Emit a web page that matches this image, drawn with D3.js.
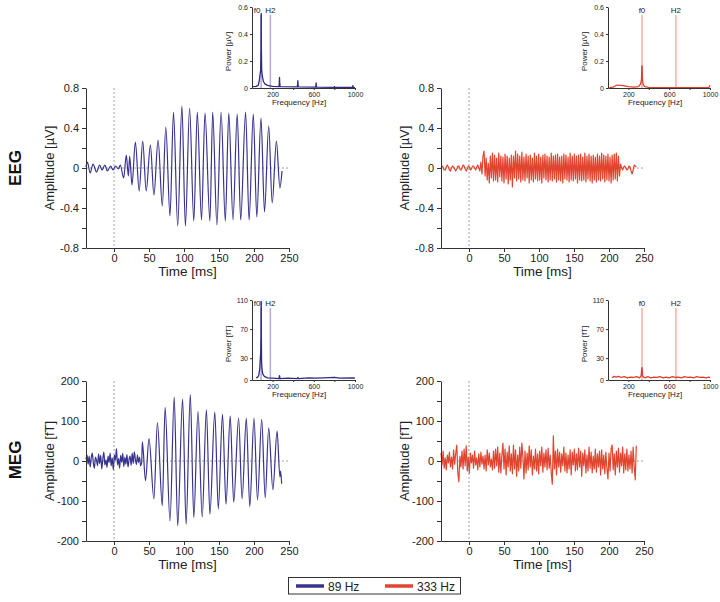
<!DOCTYPE html>
<html><head><meta charset="utf-8">
<script src="https://cdn.jsdelivr.net/npm/d3@7"></script>
<style>
body{margin:0;background:#fff;}
svg text{font-family:Arial,"Liberation Sans",Helvetica,sans-serif;}
</style>
</head><body>
<svg id="c" width="720" height="602"></svg>
<script>
// ---------------- DATA ----------------
const timeDomain = [-40, 250];
const timeTicks = [0, 50, 100, 150, 200, 250];
const eegTicks = [-0.8, -0.6, -0.4, -0.2, 0, 0.2, 0.4, 0.6, 0.8];
const eegLabels = [-0.8, -0.4, 0, 0.4, 0.8];
const megTicks = [-200, -150, -100, -50, 0, 50, 100, 150, 200];
const megLabels = [-200, -100, 0, 100, 200];
const freqTicks = [200, 400, 600, 800, 1000];
const freqLabels = [200, 600, 1000];
const psdEegTicks = [0, 0.2, 0.4, 0.6];
const psdMegTicks = [0, 30, 70, 110];
const legendLabels = ["89 Hz", "333 Hz"];
const rowLabels = ["EEG", "MEG"];

// EEG, 89 Hz: [time ms, amplitude µV] (extrema)
const eeg89 = [[-40,0.01],[-38,0.06],[-34,-0.05],[-30,0.04],[-25,-0.04],[-20.5,0.03],[-17,-0.02],[-13,0.03],
 [-9.5,-0.03],[-4.8,0.02],[-1.4,-0.02],[2.4,0.02],[6.2,-0.01],[9,0.03],[13.8,-0.10],[17.6,0.13],[20.5,-0.08],
 [22.4,0.12],[25.7,-0.17],[30.5,0.26],[36,-0.23],[41,0.27],[46,-0.23],[52,0.23],[57,-0.27],[63,0.28],[69,-0.38],
 [74,0.41],[80,-0.48],[85,0.56],[91,-0.58],[97,0.62],[102,-0.58],[108,0.60],[114,-0.53],[119,0.56],[125,-0.52],
 [130,0.55],[137,-0.53],[141,0.56],[147,-0.57],[153,0.56],[159,-0.53],[164,0.55],[170,-0.52],[176,0.54],
 [181,-0.52],[188,0.56],[193,-0.52],[199,0.54],[204,-0.49],[210,0.50],[215,-0.44],[221,0.42],[226,-0.35],
 [232,0.27],[237,-0.20],[240,-0.03]];

// EEG, 333 Hz: samples every 1.5 ms from -40 ms (µV)
const eeg333Start = -40, eeg333Step = 1.5;
const eeg333V = [
 0.00,0.02,0.01,-0.02,-0.02,0.01,0.03,0.01,-0.02,-0.03,0.00,0.02,0.01,-0.01,-0.03,-0.01,0.02,0.02,-0.01,-0.02,
 0.00,0.03,0.02,-0.01,-0.03,-0.01,0.02,0.01,-0.02,-0.01,0.02,0.02,0.00,-0.02,0.01,0.03,0.00,
 -0.03,0.06,-0.06,0.12,0.17,-0.08,0.10,-0.12,
 0.05,-0.15,0.12,-0.10,0.15,-0.13,
 0.13,-0.12,0.10,-0.14,0.15,-0.09,0.12,-0.13,0.11,-0.15,
 0.14,-0.11,0.12,-0.16,0.10,-0.12,0.13,-0.19,0.12,-0.10,
 0.17,-0.13,0.14,-0.11,0.12,-0.14,0.16,-0.12,0.11,-0.13,
 0.14,-0.10,0.12,-0.15,0.13,-0.12,0.10,-0.14,0.15,-0.11,
 0.12,-0.13,0.14,-0.12,0.11,-0.15,0.13,-0.10,0.14,-0.12,
 0.12,-0.14,0.11,-0.12,0.15,-0.13,0.12,-0.11,0.13,-0.14,
 0.14,-0.12,0.11,-0.13,0.12,-0.15,0.14,-0.11,0.13,-0.12,
 0.11,-0.14,0.15,-0.12,0.12,-0.13,0.14,-0.11,0.12,-0.15,
 0.13,-0.12,0.14,-0.13,0.11,-0.12,0.15,-0.14,0.12,-0.11,
 0.14,-0.13,0.12,-0.15,0.13,-0.12,0.11,-0.14,0.14,-0.12,
 0.12,-0.13,0.15,-0.11,0.13,-0.14,0.12,-0.12,0.14,-0.13,
 0.11,-0.15,0.13,-0.12,0.14,-0.11,0.15,-0.13,0.12,-0.08,0.04,
 0.00,-0.02,0.01,0.02,0.00,-0.02,-0.01,0.02,0.01,-0.03,-0.06,-0.02,0.03,0.02,0.01];

// MEG, 89 Hz: pre-stimulus samples every 1.5 ms from -40 ms (fT) ...
const meg89NoiseStart = -40, meg89NoiseStep = 1.5;
const meg89NoiseV = [5,15,-8,12,-15,8,20,-5,-18,10,2,-12,18,-6,14,-20,5,22,-10,3,-16,12,-4,20,-12,8,-22,15,2,31,
 -10,6,-18,14,-3,19,-14,9,-8,16,-15,4,12,-11,20,-6,23,5,-9,15,-4,10,-12];
// ... then oscillation extrema [time ms, fT]
const meg89Osc = [[39.5,-5],[40.5,48],[45,-49],[50,56],[57,-95],[62,96],[69,-112],[73,134],[80,-150],[86,160],
 [91,-162],[98,155],[103,-158],[109,166],[114,-141],[120,124],[126,-140],[132,128],[137,-133],[144,122],[149,-120],
 [155,117],[160,-108],[166,113],[171,-103],[178,107],[183,-95],[189,107],[194,-114],[200,107],[205,-97],[211,104],
 [216,-92],[221,83],[227,-72],[233,75],[237,-40],[238,-25],[239.5,-57]];

// MEG, 333 Hz: samples every 1.5 ms from -40 ms (fT)
const meg333Start = -40, meg333Step = 1.5;
const meg333V = [
 20,-10,25,-18,8,-22,15,-5,22,-15, 10,-20,28,-8,18,40,-30,-52,12,-15, 25,-20,30,-12,38,-25,10,-30,20,-5,
 15,-18,25,-10,8,-22,18,-15,22,-8, 12,-20,15,-25,28,-10,20,-15,5,-22, 25,-18,30,-12,35,-28,20,-30,15,45,
 -20,30,-35,22,-15,38,-25,18,-32,40, -20,28,-38,15,-25,35,-18,45,10,-45, 25,-30,20,-22,38,-15,28,-35,12,-20,
 30,-25,18,-32,25,-12,35,-28,20,-15, 28,-22,32,-18,15,-30,-58,63,-20,25, -35,30,-15,22,-28,18,-12,35,-25,20,
 -30,15,-20,28,-35,22,-10,30,-25,18, -22,32,-15,25,-38,20,-12,28,-30,15, -25,35,-18,22,-30,12,-20,30,-28,18,
 -15,25,-35,28,-20,15,-32,22,-18,-45, 20,-25,30,40,-22,18,-35,25,-15,32, -28,20,-12,35,-30,18,-22,30,-25,15,
 -20,25,-30,35,-15,-47,38];

// Spectra [frequency Hz, power]
const psdEeg89 = [[10,0.01],[40,0.012],[60,0.02],[70,0.05],[78,0.10],[84,0.13],[87.5,0.3],[88.5,0.55],[90,0.55],
 [91,0.3],[94,0.13],[100,0.09],[110,0.05],[125,0.03],[150,0.02],[200,0.012],[262,0.01],[265,0.04],[267,0.078],
 [269,0.04],[273,0.01],[440,0.008],[443,0.03],[445,0.054],[447,0.03],[450,0.008],[618,0.006],[621,0.02],
 [623,0.037],[625,0.02],[628,0.006],[797,0.004],[801,0.01],[805,0.004],[975,0.004],[979,0.017],[983,0.004],[1000,0.003]];
const psdEeg333 = [[12,0.003],[50,0.006],[70,0.015],[90,0.022],[120,0.02],[150,0.018],[200,0.01],[260,0.006],
 [300,0.01],[320,0.03],[328,0.06],[332,0.164],[334,0.164],[338,0.06],[345,0.025],[360,0.01],[400,0.005],
 [600,0.003],[800,0.003],[990,0.004],[1000,0.02]];
const psdMeg89 = [[40,3],[55,4],[65,6],[75,15],[80,28],[84,37],[87.5,60],[88.5,108],[90,108],[91,60],[93,25],
 [97,15],[105,8],[120,5],[150,3],[200,2.5],[262,2],[267,6],[272,2],[350,2.5],[440,2],[445,3.5],[450,2],[550,3],
 [623,2.5],[700,3],[801,3.5],[850,2.5],[979,3],[1000,2.5]];
const psdMeg333 = [[40,3],[60,5],[80,4],[100,5],[130,3.5],[160,4.5],[190,3],[220,4],[250,3.5],[280,4.5],[310,3],
 [325,6],[332,17],[334,17],[340,5],[360,3],[390,4.5],[420,3],[450,4],[480,3.5],[510,4.5],[540,3],[570,4],[600,3],
 [630,4.5],[660,3.5],[690,4],[720,3],[750,4.5],[780,3.5],[810,4],[840,3],[870,4.5],[900,3.5],[930,4],[960,3],
 [990,4],[1000,3]];

// ---------------- DRAWING ----------------
const BLUE = "#37338f", RED = "#e2452f";
const BLUE_PSD = "#2f2b82", RED_PSD = "#dc402b";
const BLUE_MARK = "#b4b1df", RED_MARK = "#f5b3a9";
const TXT = "#222", AX = "#333";
const svg = d3.select("#c");

const uniform = (start, step, vals) => vals.map((v, i) => [start + step * i, v]);

function styleAxis(g, fs) {
  g.attr("font-family", null).attr("font-size", null);
  g.select(".domain").attr("stroke", AX).attr("stroke-width", 1);
  g.selectAll(".tick line").attr("stroke", AX).attr("stroke-width", 1);
  g.selectAll(".tick text").attr("fill", TXT).style("font-size", fs + "px");
}

function mainPanel(p) {
  const g = svg.append("g");
  const x = d3.scaleLinear().domain(timeDomain).range([p.x0, p.x1]);
  const y = d3.scaleLinear().domain([p.yTicks[0], p.yTicks[p.yTicks.length - 1]]).range([p.y1, p.y0]);
  g.append("line").attr("x1", x(timeDomain[0])).attr("x2", x(timeDomain[1]))
    .attr("y1", y(0)).attr("y2", y(0)).attr("stroke", "#8c8c8c").attr("stroke-width", 0.8).attr("stroke-dasharray", "2,2");
  g.append("line").attr("x1", x(0)).attr("x2", x(0))
    .attr("y1", p.y0).attr("y2", p.y1).attr("stroke", "#8c8c8c").attr("stroke-width", 0.8).attr("stroke-dasharray", "2,2");
  const line = d3.line().x(d => x(d[0])).y(d => y(d[1])).curve(p.curve);
  g.append("path").datum(p.data).attr("d", line).attr("fill", "none")
    .attr("stroke", p.color).attr("stroke-width", 1.2).attr("stroke-linejoin", "round");
  const ya = g.append("g").attr("transform", `translate(${p.x0},0)`)
    .call(d3.axisLeft(y).tickValues(p.yTicks).tickSize(4).tickSizeOuter(0).tickPadding(3)
      .tickFormat(v => p.yLabels.includes(v) ? String(v) : ""));
  styleAxis(ya, 11);
  const xa = g.append("g").attr("transform", `translate(0,${p.y1})`)
    .call(d3.axisBottom(x).tickValues(timeTicks).tickSize(4).tickSizeOuter(0).tickPadding(2));
  styleAxis(xa, 11);
  g.append("text").attr("x", (p.x0 + p.x1) / 2).attr("y", p.y1 + 28).attr("text-anchor", "middle")
    .attr("fill", TXT).style("font-size", "13.5px").text("Time [ms]");
  g.append("text").attr("transform", `translate(${p.x0 - 32.5},${(p.y0 + p.y1) / 2}) rotate(-90)`)
    .attr("text-anchor", "middle").attr("fill", TXT).style("font-size", "13px").text(p.yTitle);
}

function inset(p) {
  const g = svg.append("g");
  const x = d3.scaleLinear().domain([0, 1000]).range([p.x0, p.x1]);
  const y = d3.scaleLinear().domain([p.yTicks[0], p.yTicks[p.yTicks.length - 1]]).range([p.y1, p.y0]);
  p.markers.forEach(m => {
    g.append("line").attr("x1", x(m.f)).attr("x2", x(m.f)).attr("y1", p.y0 + 8).attr("y2", p.y1)
      .attr("stroke", p.markColor).attr("stroke-width", 1.6);
    g.append("text").attr("x", x(m.f) + (m.dx || 0)).attr("y", p.y0 + 6).attr("text-anchor", "middle")
      .attr("fill", TXT).style("font-size", "8px").text(m.label);
  });
  const line = d3.line().x(d => x(d[0])).y(d => y(d[1]));
  g.append("path").datum(p.data).attr("d", line).attr("fill", "none")
    .attr("stroke", p.color).attr("stroke-width", 1.3).attr("stroke-linejoin", "round");
  const ya = g.append("g").attr("transform", `translate(${p.x0},0)`)
    .call(d3.axisLeft(y).tickValues(p.yTicks).tickSize(2).tickSizeOuter(0).tickPadding(2).tickFormat(v => String(v)));
  styleAxis(ya, 7);
  const xa = g.append("g").attr("transform", `translate(0,${p.y1})`)
    .call(d3.axisBottom(x).tickValues(freqTicks).tickSize(2).tickSizeOuter(0).tickPadding(2)
      .tickFormat(v => freqLabels.includes(v) ? String(v) : ""));
  styleAxis(xa, 7);
  g.append("text").attr("x", p.x0 + 47).attr("y", p.y1 + 17).attr("text-anchor", "middle")
    .attr("fill", TXT).style("font-size", "8px").text("Frequency [Hz]");
  g.append("text").attr("transform", `translate(${p.x0 - 21},${(p.y0 + p.y1) / 2 + 4}) rotate(-90)`)
    .attr("text-anchor", "middle").attr("fill", TXT).style("font-size", "8px").text(p.yTitle);
}

const LX = [86, 289], RX = [441, 644], TY = [88, 248], BY = [381, 541];

mainPanel({x0: LX[0], x1: LX[1], y0: TY[0], y1: TY[1], yTicks: eegTicks, yLabels: eegLabels,
  yTitle: "Amplitude [µV]", data: eeg89, color: BLUE, curve: d3.curveMonotoneX});
mainPanel({x0: RX[0], x1: RX[1], y0: TY[0], y1: TY[1], yTicks: eegTicks, yLabels: eegLabels,
  yTitle: "Amplitude [µV]", data: uniform(eeg333Start, eeg333Step, eeg333V), color: RED, curve: d3.curveLinear});
mainPanel({x0: LX[0], x1: LX[1], y0: BY[0], y1: BY[1], yTicks: megTicks, yLabels: megLabels,
  yTitle: "Amplitude [fT]", data: uniform(meg89NoiseStart, meg89NoiseStep, meg89NoiseV).concat(meg89Osc),
  color: BLUE, curve: d3.curveMonotoneX});
mainPanel({x0: RX[0], x1: RX[1], y0: BY[0], y1: BY[1], yTicks: megTicks, yLabels: megLabels,
  yTitle: "Amplitude [fT]", data: uniform(meg333Start, meg333Step, meg333V), color: RED, curve: d3.curveLinear});

const ILX = [252, 355], IRX = [608, 710], ITY = [7, 88], IBY = [300, 380];
inset({x0: ILX[0], x1: ILX[1], y0: ITY[0], y1: ITY[1], yTicks: psdEegTicks, yTitle: "Power [µV]",
  data: psdEeg89, color: BLUE_PSD, markColor: BLUE_MARK, markers: [{f: 89, label: "f0", dx: -4}, {f: 178, label: "H2"}]});
inset({x0: IRX[0], x1: IRX[1], y0: ITY[0], y1: ITY[1], yTicks: psdEegTicks, yTitle: "Power [µV]",
  data: psdEeg333, color: RED_PSD, markColor: RED_MARK, markers: [{f: 333, label: "f0"}, {f: 666, label: "H2"}]});
inset({x0: ILX[0], x1: ILX[1], y0: IBY[0], y1: IBY[1], yTicks: psdMegTicks, yTitle: "Power [fT]",
  data: psdMeg89, color: BLUE_PSD, markColor: BLUE_MARK, markers: [{f: 89, label: "f0", dx: -4}, {f: 178, label: "H2"}]});
inset({x0: IRX[0], x1: IRX[1], y0: IBY[0], y1: IBY[1], yTicks: psdMegTicks, yTitle: "Power [fT]",
  data: psdMeg333, color: RED_PSD, markColor: RED_MARK, markers: [{f: 333, label: "f0"}, {f: 666, label: "H2"}]});

// Row labels
[[rowLabels[0], 168], [rowLabels[1], 460]].forEach(([t, cy]) => {
  svg.append("text").attr("transform", `translate(21,${cy}) rotate(-90)`).attr("text-anchor", "middle")
    .attr("fill", "#111").style("font-size", "17px").style("font-weight", "bold").text(t);
});

// Legend
const lg = svg.append("g");
lg.append("rect").attr("x", 288.5).attr("y", 577.5).attr("width", 172).attr("height", 16.5)
  .attr("fill", "#fff").attr("stroke", AX).attr("stroke-width", 1);
[[BLUE, 296, legendLabels[0]], [RED, 385, legendLabels[1]]].forEach(([c, lx, t]) => {
  lg.append("line").attr("x1", lx).attr("x2", lx + 28).attr("y1", 586).attr("y2", 586)
    .attr("stroke", c).attr("stroke-width", 3.5);
  lg.append("text").attr("x", lx + 32).attr("y", 590.5).attr("fill", TXT).style("font-size", "12px").text(t);
});
</script>
</body></html>
